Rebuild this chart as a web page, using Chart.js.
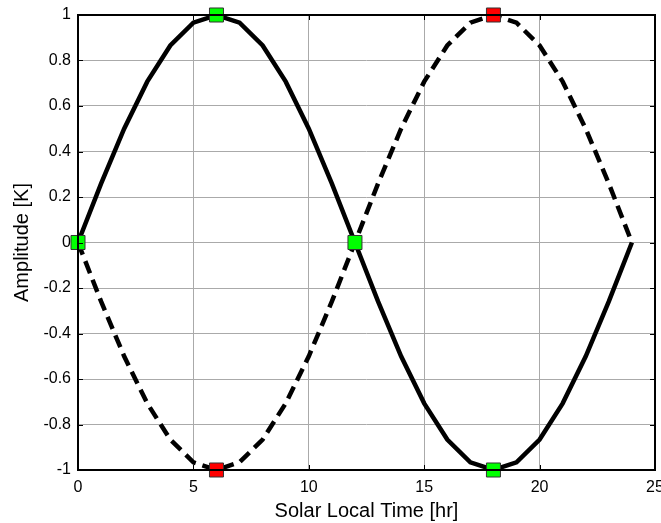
<!DOCTYPE html>
<html>
<head>
<meta charset="utf-8">
<script src="https://cdn.jsdelivr.net/npm/chart.js@4.4.1/dist/chart.umd.min.js"></script>
<style>
html,body{margin:0;padding:0;background:#fff;}
#wrap{width:661px;height:523px;position:relative;}
</style>
</head>
<body>
<div id="wrap"><canvas id="c" width="661" height="523"></canvas></div>
<script>
// Data
const hours = [0,1,2,3,4,5,6,7,8,9,10,11,12,13,14,15,16,17,18,19,20,21,22,23,24];
const solidAmp = [0,0.259,0.5,0.707,0.866,0.966,1,0.966,0.866,0.707,0.5,0.259,0,-0.259,-0.5,-0.707,-0.866,-0.966,-1,-0.966,-0.866,-0.707,-0.5,-0.259,0];
const dashedAmp = [0,-0.259,-0.5,-0.707,-0.866,-0.966,-1,-0.966,-0.866,-0.707,-0.5,-0.259,0,0.259,0.5,0.707,0.866,0.966,1,0.966,0.866,0.707,0.5,0.259,0];
const greenX = [0,6,12,18];
const greenY = [0,1,0,-1];
const redX = [6,18];
const redY = [-1,1];
const xTicks = [0,5,10,15,20,25];
const yTicks = [-1,-0.8,-0.6,-0.4,-0.2,0,0.2,0.4,0.6,0.8,1];

const pts = (xs, ys) => xs.map((x,i)=>({x:x,y:ys[i]}));

const FONT = '"Liberation Sans", Arial, sans-serif';

const frame = {
  id:'frame',
  afterDraw(chart){
    const {ctx, chartArea:a, scales:{x,y}} = chart;
    ctx.save();
    ctx.strokeStyle = '#000';
    ctx.lineWidth = 1;
    const L=5;
    ctx.beginPath();
    xTicks.forEach(v=>{
      const px = Math.round(x.getPixelForValue(v))+0.5;
      ctx.moveTo(px,a.bottom); ctx.lineTo(px,a.bottom-L);
      ctx.moveTo(px,a.top); ctx.lineTo(px,a.top+L);
    });
    yTicks.forEach(v=>{
      const py = Math.round(y.getPixelForValue(v))+0.5;
      ctx.moveTo(a.left,py); ctx.lineTo(a.left+L,py);
      ctx.moveTo(a.right,py); ctx.lineTo(a.right-L,py);
    });
    ctx.stroke();
    ctx.lineWidth = 2;
    ctx.strokeRect(a.left, a.top, a.right-a.left, a.bottom-a.top);
    ctx.restore();
  }
};

new Chart(document.getElementById('c'), {
  type:'line',
  data:{
    datasets:[
      {data:pts(hours,solidAmp), borderColor:'#000', borderWidth:4.5, pointRadius:0, tension:0, clip:false, order:3},
      {data:pts(hours,dashedAmp), borderColor:'#000', borderWidth:4.5, borderDash:[13,7], pointRadius:0, tension:0, clip:false, order:2},
      {data:pts(greenX,greenY), showLine:false, pointStyle:'rect', pointRadius:9.9, pointBackgroundColor:'#00ff00', pointBorderColor:'#333', pointBorderWidth:1, clip:false, order:1},
      {data:pts(redX,redY), showLine:false, pointStyle:'rect', pointRadius:9.9, pointBackgroundColor:'#ff0000', pointBorderColor:'#333', pointBorderWidth:1, clip:false, order:0}
    ]
  },
  options:{
    responsive:false,
    animation:false,
    layout:{autoPadding:false, padding:{top:15,right:6,left:0,bottom:0}},
    plugins:{legend:{display:false}, tooltip:{enabled:false}},
    scales:{
      x:{
        type:'linear', min:0, max:25,
        afterBuildTicks(s){ s.ticks = xTicks.map(v=>({value:v})); },
        afterFit(s){ s.height = 53; s.paddingLeft=0; s.paddingRight=0; },
        ticks:{color:'#000', font:{family:FONT,size:16}, padding:8, maxRotation:0, callback:v=>String(v)},
        grid:{color:'#aaaaaa', lineWidth:1, borderDash:[1,2], drawTicks:false},
        border:{display:false},
        title:{display:true, text:'Solar Local Time [hr]', color:'#000', font:{family:FONT,size:20}, padding:{top:0,bottom:0}}
      },
      y:{
        type:'linear', min:-1, max:1,
        afterBuildTicks(s){ s.ticks = yTicks.map(v=>({value:v})); },
        afterFit(s){ s.width = 78; s.paddingTop=0; s.paddingBottom=0; },
        ticks:{color:'#000', font:{family:FONT,size:16}, padding:7, callback:v=>String(Math.round(v*10)/10)},
        grid:{color:'#aaaaaa', lineWidth:1, borderDash:[1,2], drawTicks:false},
        border:{display:false},
        title:{display:true, text:'Amplitude [K]', color:'#000', font:{family:FONT,size:20}, padding:{top:10,bottom:4}}
      }
    }
  },
  plugins:[frame]
});
</script>
</body>
</html>
